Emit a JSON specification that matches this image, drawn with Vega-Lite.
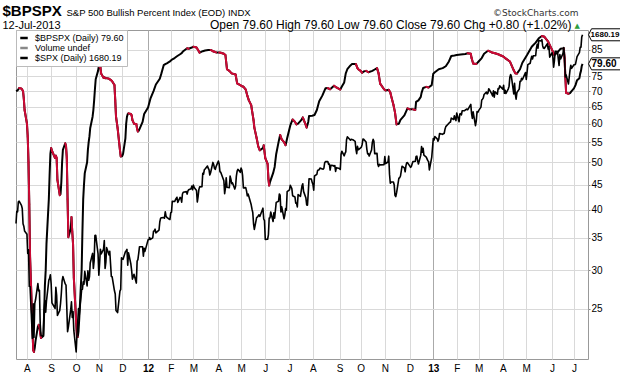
{
"$schema": "https://vega.github.io/schema/vega-lite/v6.json",
"width": 572, "height": 329,
"autosize": {"type": "none"},
"padding": {"left": 16, "top": 30, "right": 32, "bottom": 17},
"background": "white",
"config": {
  "view": {"stroke": "#999999", "strokeWidth": 1},
  "legend": {"orient": "top-left", "offset": 0, "padding": 3, "fillColor": "white", "strokeColor": "#bbbbbb", "strokeWidth": 1, "symbolType": "stroke", "symbolSize": 56, "symbolStrokeWidth": 2.5, "labelFont": "Liberation Sans", "labelFontSize": 9, "labelColor": "black", "labelOffset": 6, "rowPadding": 0, "cornerRadius": 0}
},
"layer": [
{
  "data": {"format": {"parse": {"d": "date"}}, "values": [
{"d":"2011-07-18","v":70.0},{"d":"2011-07-20","v":70.2},{"d":"2011-07-22","v":71.0},{"d":"2011-07-25","v":70.8},{"d":"2011-07-27","v":70.0},{"d":"2011-07-28","v":67.5},{"d":"2011-07-29","v":64.0},{"d":"2011-08-01","v":60.0},{"d":"2011-08-02","v":56.4},{"d":"2011-08-03","v":50.0},{"d":"2011-08-04","v":41.0},{"d":"2011-08-05","v":32.0},{"d":"2011-08-08","v":23.0},{"d":"2011-08-09","v":20.6},{"d":"2011-08-10","v":20.4},{"d":"2011-08-11","v":20.8},{"d":"2011-08-12","v":21.5},{"d":"2011-08-15","v":23.0},{"d":"2011-08-16","v":23.2},{"d":"2011-08-17","v":23.0},{"d":"2011-08-18","v":22.3},{"d":"2011-08-19","v":21.8},{"d":"2011-08-22","v":22.0},{"d":"2011-08-23","v":24.5},{"d":"2011-08-24","v":28.0},{"d":"2011-08-25","v":30.0},{"d":"2011-08-26","v":34.0},{"d":"2011-08-29","v":42.0},{"d":"2011-08-30","v":47.0},{"d":"2011-08-31","v":52.0},
{"d":"2011-09-01","v":53.5},{"d":"2011-09-02","v":52.8},{"d":"2011-09-06","v":51.0},{"d":"2011-09-07","v":51.6},{"d":"2011-09-08","v":51.0},{"d":"2011-09-09","v":46.0},{"d":"2011-09-12","v":42.8},{"d":"2011-09-13","v":43.0},{"d":"2011-09-14","v":45.5},{"d":"2011-09-15","v":50.0},{"d":"2011-09-16","v":53.0},{"d":"2011-09-19","v":54.7},{"d":"2011-09-20","v":54.0},{"d":"2011-09-21","v":51.0},{"d":"2011-09-22","v":42.0},{"d":"2011-09-23","v":35.1},{"d":"2011-09-26","v":36.5},{"d":"2011-09-27","v":38.6},{"d":"2011-09-28","v":36.0},{"d":"2011-09-29","v":34.0},{"d":"2011-09-30","v":29.0},
{"d":"2011-10-03","v":23.5},{"d":"2011-10-04","v":22.0},{"d":"2011-10-05","v":21.9},{"d":"2011-10-06","v":22.5},{"d":"2011-10-07","v":24.0},{"d":"2011-10-10","v":30.0},{"d":"2011-10-11","v":36.0},{"d":"2011-10-12","v":42.0},{"d":"2011-10-13","v":45.0},{"d":"2011-10-14","v":47.5},{"d":"2011-10-17","v":50.0},{"d":"2011-10-18","v":53.0},{"d":"2011-10-19","v":55.0},{"d":"2011-10-20","v":56.5},{"d":"2011-10-21","v":58.8},{"d":"2011-10-24","v":62.0},{"d":"2011-10-25","v":64.0},{"d":"2011-10-26","v":67.0},{"d":"2011-10-27","v":70.6},{"d":"2011-10-28","v":74.0},{"d":"2011-10-31","v":77.0},
{"d":"2011-11-01","v":78.7},{"d":"2011-11-02","v":78.5},{"d":"2011-11-03","v":78.4},{"d":"2011-11-04","v":76.0},{"d":"2011-11-07","v":74.5},{"d":"2011-11-08","v":74.8},{"d":"2011-11-09","v":74.4},{"d":"2011-11-11","v":74.4},{"d":"2011-11-14","v":74.2},{"d":"2011-11-16","v":73.8},{"d":"2011-11-18","v":73.3},{"d":"2011-11-21","v":72.0},{"d":"2011-11-22","v":67.0},{"d":"2011-11-23","v":62.0},{"d":"2011-11-25","v":58.8},{"d":"2011-11-28","v":53.0},{"d":"2011-11-29","v":51.4},{"d":"2011-11-30","v":51.4},
{"d":"2011-12-01","v":51.5},{"d":"2011-12-02","v":52.0},{"d":"2011-12-05","v":56.0},{"d":"2011-12-06","v":60.0},{"d":"2011-12-07","v":62.0},{"d":"2011-12-08","v":62.8},{"d":"2011-12-09","v":63.0},{"d":"2011-12-12","v":62.8},{"d":"2011-12-13","v":62.4},{"d":"2011-12-14","v":61.0},{"d":"2011-12-16","v":60.0},{"d":"2011-12-19","v":59.9},{"d":"2011-12-20","v":58.5},{"d":"2011-12-21","v":57.8},{"d":"2011-12-22","v":58.0},{"d":"2011-12-23","v":58.5},{"d":"2011-12-27","v":60.5},{"d":"2011-12-29","v":62.8},
{"d":"2012-01-03","v":64.8},{"d":"2012-01-06","v":67.5},{"d":"2012-01-10","v":70.0},{"d":"2012-01-13","v":72.2},{"d":"2012-01-18","v":74.2},{"d":"2012-01-20","v":76.0},{"d":"2012-01-23","v":79.1},{"d":"2012-01-25","v":79.5},{"d":"2012-01-27","v":79.8},{"d":"2012-01-31","v":80.5},{"d":"2012-02-02","v":81.1},{"d":"2012-02-06","v":81.8},{"d":"2012-02-09","v":82.5},{"d":"2012-02-13","v":83.3},{"d":"2012-02-15","v":83.7},{"d":"2012-02-17","v":84.5},{"d":"2012-02-22","v":85.7},{"d":"2012-02-24","v":85.5},{"d":"2012-02-28","v":86.0},
{"d":"2012-03-01","v":86.3},{"d":"2012-03-05","v":86.0},{"d":"2012-03-07","v":85.0},{"d":"2012-03-09","v":83.9},{"d":"2012-03-13","v":84.5},{"d":"2012-03-16","v":84.8},{"d":"2012-03-20","v":85.0},{"d":"2012-03-23","v":85.0},{"d":"2012-03-26","v":84.5},{"d":"2012-03-28","v":84.3},{"d":"2012-03-30","v":84.0},{"d":"2012-04-03","v":84.0},{"d":"2012-04-05","v":83.9},{"d":"2012-04-09","v":83.5},{"d":"2012-04-11","v":83.0},{"d":"2012-04-13","v":77.6},{"d":"2012-04-16","v":77.0},{"d":"2012-04-19","v":76.1},{"d":"2012-04-24","v":75.7},{"d":"2012-04-26","v":72.6},{"d":"2012-04-30","v":72.0},
{"d":"2012-05-03","v":71.5},{"d":"2012-05-04","v":71.5},{"d":"2012-05-07","v":70.5},{"d":"2012-05-09","v":68.5},{"d":"2012-05-11","v":67.0},{"d":"2012-05-14","v":65.5},{"d":"2012-05-15","v":63.9},{"d":"2012-05-17","v":61.0},{"d":"2012-05-18","v":58.9},{"d":"2012-05-21","v":56.0},{"d":"2012-05-23","v":53.9},{"d":"2012-05-25","v":52.9},{"d":"2012-05-29","v":53.5},{"d":"2012-05-30","v":54.2},
{"d":"2012-06-01","v":51.0},{"d":"2012-06-04","v":49.6},{"d":"2012-06-05","v":46.3},{"d":"2012-06-06","v":44.8},{"d":"2012-06-07","v":45.5},{"d":"2012-06-08","v":46.0},{"d":"2012-06-11","v":47.5},{"d":"2012-06-13","v":48.9},{"d":"2012-06-15","v":52.0},{"d":"2012-06-18","v":55.0},{"d":"2012-06-20","v":56.9},{"d":"2012-06-22","v":55.7},{"d":"2012-06-25","v":55.0},{"d":"2012-06-27","v":54.2},{"d":"2012-06-29","v":56.0},
{"d":"2012-07-03","v":59.5},{"d":"2012-07-06","v":61.2},{"d":"2012-07-09","v":60.5},{"d":"2012-07-11","v":59.8},{"d":"2012-07-13","v":60.0},{"d":"2012-07-17","v":61.0},{"d":"2012-07-19","v":61.8},{"d":"2012-07-23","v":59.5},{"d":"2012-07-24","v":58.9},{"d":"2012-07-26","v":60.5},{"d":"2012-07-27","v":62.2},{"d":"2012-07-31","v":62.3},
{"d":"2012-08-03","v":62.5},{"d":"2012-08-06","v":64.0},{"d":"2012-08-09","v":66.7},{"d":"2012-08-13","v":68.5},{"d":"2012-08-17","v":70.9},{"d":"2012-08-20","v":71.0},{"d":"2012-08-23","v":70.6},{"d":"2012-08-28","v":71.8},{"d":"2012-08-31","v":71.2},
{"d":"2012-09-05","v":70.5},{"d":"2012-09-07","v":71.5},{"d":"2012-09-10","v":72.9},{"d":"2012-09-12","v":76.1},{"d":"2012-09-14","v":77.6},{"d":"2012-09-18","v":79.0},{"d":"2012-09-20","v":79.5},{"d":"2012-09-25","v":79.5},{"d":"2012-09-27","v":78.0},{"d":"2012-09-28","v":77.6},
{"d":"2012-10-01","v":77.0},{"d":"2012-10-03","v":76.3},{"d":"2012-10-05","v":76.8},{"d":"2012-10-08","v":77.0},{"d":"2012-10-11","v":76.5},{"d":"2012-10-16","v":77.0},{"d":"2012-10-19","v":77.5},{"d":"2012-10-22","v":78.0},{"d":"2012-10-24","v":76.1},{"d":"2012-10-26","v":72.5},{"d":"2012-10-31","v":70.6},
{"d":"2012-11-02","v":70.2},{"d":"2012-11-06","v":70.4},{"d":"2012-11-08","v":69.5},{"d":"2012-11-09","v":68.5},{"d":"2012-11-12","v":65.6},{"d":"2012-11-14","v":63.3},{"d":"2012-11-16","v":59.8},{"d":"2012-11-19","v":60.0},{"d":"2012-11-21","v":61.1},{"d":"2012-11-26","v":62.4},{"d":"2012-11-30","v":64.5},
{"d":"2012-12-03","v":64.2},{"d":"2012-12-07","v":64.2},{"d":"2012-12-10","v":64.0},{"d":"2012-12-11","v":66.5},{"d":"2012-12-14","v":67.0},{"d":"2012-12-17","v":68.1},{"d":"2012-12-18","v":69.4},{"d":"2012-12-20","v":71.0},{"d":"2012-12-24","v":71.4},{"d":"2012-12-27","v":71.2},{"d":"2012-12-31","v":72.0},
{"d":"2013-01-02","v":76.0},{"d":"2013-01-04","v":76.5},{"d":"2013-01-09","v":77.6},{"d":"2013-01-14","v":78.0},{"d":"2013-01-18","v":78.7},{"d":"2013-01-22","v":80.5},{"d":"2013-01-25","v":82.6},{"d":"2013-01-29","v":82.8},{"d":"2013-02-01","v":83.0},{"d":"2013-02-06","v":83.2},{"d":"2013-02-12","v":83.4},{"d":"2013-02-15","v":83.7},{"d":"2013-02-19","v":83.5},{"d":"2013-02-20","v":81.8},{"d":"2013-02-22","v":79.7},{"d":"2013-02-26","v":79.5},
{"d":"2013-03-01","v":80.5},{"d":"2013-03-05","v":81.8},{"d":"2013-03-08","v":83.5},{"d":"2013-03-13","v":84.7},{"d":"2013-03-18","v":84.0},{"d":"2013-03-22","v":83.7},{"d":"2013-03-26","v":83.3},{"d":"2013-03-28","v":83.0},{"d":"2013-04-01","v":82.5},{"d":"2013-04-04","v":81.8},{"d":"2013-04-10","v":80.5},{"d":"2013-04-15","v":77.2},{"d":"2013-04-17","v":76.1},{"d":"2013-04-19","v":76.0},{"d":"2013-04-23","v":77.6},{"d":"2013-04-26","v":80.0},
{"d":"2013-05-02","v":83.0},{"d":"2013-05-08","v":86.3},{"d":"2013-05-13","v":88.0},{"d":"2013-05-17","v":89.8},{"d":"2013-05-21","v":90.8},{"d":"2013-05-24","v":90.5},{"d":"2013-05-29","v":88.4},{"d":"2013-06-03","v":85.0},{"d":"2013-06-06","v":83.0},{"d":"2013-06-10","v":84.0},{"d":"2013-06-14","v":85.5},{"d":"2013-06-18","v":85.7},{"d":"2013-06-19","v":81.8},{"d":"2013-06-20","v":75.0},{"d":"2013-06-21","v":69.4},{"d":"2013-06-24","v":69.1},{"d":"2013-06-26","v":69.3},{"d":"2013-06-28","v":70.0},
{"d":"2013-07-01","v":70.9},{"d":"2013-07-03","v":72.0},{"d":"2013-07-05","v":73.7},{"d":"2013-07-08","v":74.4},{"d":"2013-07-09","v":76.0},{"d":"2013-07-10","v":77.0},{"d":"2013-07-11","v":78.8},{"d":"2013-07-12","v":79.6}
  ]},
  "encoding": {
    "x": {"field": "d", "type": "temporal",
      "scale": {"domain": [{"year": 2011, "month": 7, "date": 18, "utc": true}, {"year": 2013, "month": 7, "date": 19, "utc": true}], "nice": false},
      "axis": {"orient": "bottom",
        "values": [{"year":2011,"month":8,"date":1,"utc":true},{"year":2011,"month":9,"date":1,"utc":true},{"year":2011,"month":10,"date":3,"utc":true},{"year":2011,"month":11,"date":1,"utc":true},{"year":2011,"month":12,"date":1,"utc":true},{"year":2012,"month":1,"date":3,"utc":true},{"year":2012,"month":2,"date":1,"utc":true},{"year":2012,"month":3,"date":1,"utc":true},{"year":2012,"month":4,"date":2,"utc":true},{"year":2012,"month":5,"date":1,"utc":true},{"year":2012,"month":6,"date":1,"utc":true},{"year":2012,"month":7,"date":2,"utc":true},{"year":2012,"month":8,"date":1,"utc":true},{"year":2012,"month":9,"date":4,"utc":true},{"year":2012,"month":10,"date":1,"utc":true},{"year":2012,"month":11,"date":1,"utc":true},{"year":2012,"month":12,"date":3,"utc":true},{"year":2013,"month":1,"date":2,"utc":true},{"year":2013,"month":2,"date":1,"utc":true},{"year":2013,"month":3,"date":1,"utc":true},{"year":2013,"month":4,"date":1,"utc":true},{"year":2013,"month":5,"date":1,"utc":true},{"year":2013,"month":6,"date":3,"utc":true},{"year":2013,"month":7,"date":1,"utc":true}],
        "labelExpr": "utcmonth(datum.value) == 0 ? utcFormat(datum.value, '%y') : substring(utcFormat(datum.value, '%b'), 0, 1)",
        "labelFontWeight": {"condition": {"test": "utcmonth(datum.value) == 0", "value": "bold"}, "value": "normal"},
        "labelFont": "Liberation Sans", "labelFontSize": 10, "labelColor": "#000000", "labelPadding": 4, "labelFlush": false, "labelOverlap": false,
        "ticks": false, "domain": false, "grid": true,
        "gridColor": {"condition": {"test": "utcmonth(datum.value) == 0", "value": "#aaaaaa"}, "value": "#d9d9d9"},
        "title": "S&P 500 Bullish Percent Index (EOD) INDX", "titleX": 50, "titleY": -344, "titleAlign": "left", "titleAngle": 0, "titleBaseline": "alphabetic", "titleFont": "Liberation Sans", "titleFontSize": 9.5, "titleFontWeight": "normal", "titleColor": "#000000"}},
    "y": {"field": "v", "type": "quantitative",
      "scale": {"type": "log", "domain": [19.74, 93.4], "nice": false},
      "axis": {"orient": "right", "values": [25, 30, 35, 40, 45, 50, 55, 60, 65, 70, 75, 85], "format": "d",
        "labelFont": "Liberation Sans", "labelFontSize": 10, "labelColor": "#000000", "labelPadding": 1, "ticks": true, "tickSize": 2, "tickColor": "#888888", "domain": false, "grid": true, "gridColor": "#d9d9d9",
        "title": "©StockCharts.com", "titleX": -10, "titleY": -15, "titleAngle": 0, "titleAlign": "right", "titleBaseline": "alphabetic", "titleFont": "DejaVu Sans", "titleFontSize": 9, "titleFontWeight": "normal", "titleColor": "#333333"}}
  },
  "layer": [
    {"mark": {"type": "line", "strokeWidth": 2, "strokeJoin": "round"},
     "encoding": {"color": {"datum": "$BPSPX (Daily) 79.60", "type": "nominal",
       "scale": {"domain": ["$BPSPX (Daily) 79.60", "Volume undef", "$SPX (Daily) 1680.19"], "range": ["#000000", "#888888", "#000000"]},
       "legend": {"title": null}}}},
    {"transform": [
       {"window": [{"op": "lead", "field": "v", "as": "vn"}, {"op": "lead", "field": "d", "as": "dn"}], "sort": [{"field": "d", "order": "ascending"}]},
       {"filter": "datum.vn != null && datum.vn < datum.v"}],
     "mark": {"type": "rule", "color": "#cc0a35", "strokeWidth": 2, "strokeCap": "round"},
     "encoding": {"x2": {"field": "dn"}, "y2": {"field": "vn"}}},
    {"data": {"format": {"parse": {"d": "date"}}, "values": [{"d": "2013-07-12", "v": 79.6}]},
     "mark": {"type": "point", "shape": "M1,0L1.5,-1L6.5,-1L6.5,1L1.5,1Z", "size": 144, "filled": true, "fill": "white", "stroke": "black", "strokeWidth": 1, "opacity": 1}},
    {"data": {"format": {"parse": {"d": "date"}}, "values": [{"d": "2013-07-12", "v": 79.6}]},
     "mark": {"type": "text", "align": "left", "baseline": "middle", "dx": 9, "dy": 0.5, "font": "Liberation Sans", "fontWeight": "bold", "fontSize": 10, "color": "#000000"},
     "encoding": {"text": {"field": "v", "type": "quantitative", "format": ".2f"}}}
  ]
},
{
  "data": {"format": {"parse": {"d": "date"}}, "values": [
{"d":"2011-07-18","v":1305.4},{"d":"2011-07-19","v":1326.7},{"d":"2011-07-20","v":1325.8},{"d":"2011-07-21","v":1343.8},{"d":"2011-07-22","v":1345.0},{"d":"2011-07-25","v":1337.4},{"d":"2011-07-26","v":1331.9},{"d":"2011-07-27","v":1304.9},{"d":"2011-07-28","v":1300.7},{"d":"2011-07-29","v":1292.3},
{"d":"2011-08-01","v":1286.9},{"d":"2011-08-02","v":1254.1},{"d":"2011-08-03","v":1260.3},{"d":"2011-08-04","v":1200.1},{"d":"2011-08-05","v":1199.4},{"d":"2011-08-08","v":1119.5},{"d":"2011-08-09","v":1172.5},{"d":"2011-08-10","v":1120.8},{"d":"2011-08-11","v":1172.6},{"d":"2011-08-12","v":1178.8},{"d":"2011-08-15","v":1204.5},{"d":"2011-08-16","v":1192.8},{"d":"2011-08-17","v":1193.9},{"d":"2011-08-18","v":1140.7},{"d":"2011-08-19","v":1123.5},{"d":"2011-08-22","v":1123.8},{"d":"2011-08-23","v":1162.4},{"d":"2011-08-24","v":1177.6},{"d":"2011-08-25","v":1159.3},{"d":"2011-08-26","v":1176.8},{"d":"2011-08-29","v":1210.1},{"d":"2011-08-30","v":1212.9},{"d":"2011-08-31","v":1218.9},
{"d":"2011-09-01","v":1204.4},{"d":"2011-09-02","v":1174.0},{"d":"2011-09-06","v":1165.2},{"d":"2011-09-07","v":1198.6},{"d":"2011-09-08","v":1185.9},{"d":"2011-09-09","v":1154.2},{"d":"2011-09-12","v":1162.3},{"d":"2011-09-13","v":1172.9},{"d":"2011-09-14","v":1188.7},{"d":"2011-09-15","v":1209.1},{"d":"2011-09-16","v":1216.0},{"d":"2011-09-19","v":1204.1},{"d":"2011-09-20","v":1202.1},{"d":"2011-09-21","v":1166.8},{"d":"2011-09-22","v":1129.6},{"d":"2011-09-23","v":1136.4},{"d":"2011-09-26","v":1162.9},{"d":"2011-09-27","v":1175.4},{"d":"2011-09-28","v":1151.1},{"d":"2011-09-29","v":1160.4},{"d":"2011-09-30","v":1131.4},
{"d":"2011-10-03","v":1099.2},{"d":"2011-10-04","v":1124.0},{"d":"2011-10-05","v":1144.0},{"d":"2011-10-06","v":1165.0},{"d":"2011-10-07","v":1155.5},{"d":"2011-10-10","v":1194.9},{"d":"2011-10-11","v":1195.5},{"d":"2011-10-12","v":1207.3},{"d":"2011-10-13","v":1203.7},{"d":"2011-10-14","v":1224.6},{"d":"2011-10-17","v":1200.9},{"d":"2011-10-18","v":1225.4},{"d":"2011-10-19","v":1209.9},{"d":"2011-10-20","v":1215.4},{"d":"2011-10-21","v":1238.3},{"d":"2011-10-24","v":1254.2},{"d":"2011-10-25","v":1229.1},{"d":"2011-10-26","v":1242.0},{"d":"2011-10-27","v":1284.6},{"d":"2011-10-28","v":1285.1},{"d":"2011-10-31","v":1253.3},
{"d":"2011-11-01","v":1218.3},{"d":"2011-11-02","v":1237.9},{"d":"2011-11-03","v":1261.2},{"d":"2011-11-04","v":1253.2},{"d":"2011-11-07","v":1261.1},{"d":"2011-11-08","v":1275.9},{"d":"2011-11-09","v":1229.1},{"d":"2011-11-10","v":1239.7},{"d":"2011-11-11","v":1263.9},{"d":"2011-11-14","v":1251.8},{"d":"2011-11-15","v":1257.8},{"d":"2011-11-16","v":1236.9},{"d":"2011-11-17","v":1216.1},{"d":"2011-11-18","v":1215.7},{"d":"2011-11-21","v":1193.0},{"d":"2011-11-22","v":1188.0},{"d":"2011-11-23","v":1161.8},{"d":"2011-11-25","v":1158.7},{"d":"2011-11-28","v":1192.6},{"d":"2011-11-29","v":1195.2},{"d":"2011-11-30","v":1247.0},
{"d":"2011-12-01","v":1244.6},{"d":"2011-12-02","v":1244.3},{"d":"2011-12-05","v":1257.1},{"d":"2011-12-06","v":1258.5},{"d":"2011-12-07","v":1261.0},{"d":"2011-12-08","v":1234.4},{"d":"2011-12-09","v":1255.2},{"d":"2011-12-12","v":1236.5},{"d":"2011-12-13","v":1225.7},{"d":"2011-12-14","v":1211.8},{"d":"2011-12-15","v":1215.8},{"d":"2011-12-16","v":1219.7},{"d":"2011-12-19","v":1205.4},{"d":"2011-12-20","v":1241.3},{"d":"2011-12-21","v":1243.7},{"d":"2011-12-22","v":1254.0},{"d":"2011-12-23","v":1265.3},{"d":"2011-12-27","v":1265.4},{"d":"2011-12-28","v":1249.6},{"d":"2011-12-29","v":1263.0},{"d":"2011-12-30","v":1257.6},
{"d":"2012-01-03","v":1277.1},{"d":"2012-01-04","v":1277.3},{"d":"2012-01-05","v":1281.1},{"d":"2012-01-06","v":1277.8},{"d":"2012-01-09","v":1280.7},{"d":"2012-01-10","v":1292.1},{"d":"2012-01-11","v":1292.5},{"d":"2012-01-12","v":1295.5},{"d":"2012-01-13","v":1289.1},{"d":"2012-01-17","v":1293.7},{"d":"2012-01-18","v":1308.0},{"d":"2012-01-19","v":1314.5},{"d":"2012-01-20","v":1315.4},{"d":"2012-01-23","v":1316.0},{"d":"2012-01-24","v":1314.7},{"d":"2012-01-25","v":1326.1},{"d":"2012-01-26","v":1318.4},{"d":"2012-01-27","v":1316.3},{"d":"2012-01-30","v":1313.0},{"d":"2012-01-31","v":1312.4},
{"d":"2012-02-01","v":1324.1},{"d":"2012-02-02","v":1325.5},{"d":"2012-02-03","v":1344.9},{"d":"2012-02-06","v":1344.3},{"d":"2012-02-07","v":1347.1},{"d":"2012-02-08","v":1350.0},{"d":"2012-02-09","v":1352.0},{"d":"2012-02-10","v":1342.6},{"d":"2012-02-13","v":1351.8},{"d":"2012-02-14","v":1350.5},{"d":"2012-02-15","v":1343.2},{"d":"2012-02-16","v":1358.0},{"d":"2012-02-17","v":1361.2},{"d":"2012-02-21","v":1362.2},{"d":"2012-02-22","v":1357.7},{"d":"2012-02-23","v":1363.5},{"d":"2012-02-24","v":1365.7},{"d":"2012-02-27","v":1367.6},{"d":"2012-02-28","v":1372.2},{"d":"2012-02-29","v":1365.7},
{"d":"2012-03-01","v":1374.1},{"d":"2012-03-02","v":1369.6},{"d":"2012-03-05","v":1364.3},{"d":"2012-03-06","v":1343.4},{"d":"2012-03-07","v":1352.6},{"d":"2012-03-08","v":1365.9},{"d":"2012-03-09","v":1370.9},{"d":"2012-03-12","v":1371.1},{"d":"2012-03-13","v":1396.0},{"d":"2012-03-14","v":1394.3},{"d":"2012-03-15","v":1402.6},{"d":"2012-03-16","v":1404.2},{"d":"2012-03-19","v":1409.8},{"d":"2012-03-20","v":1405.5},{"d":"2012-03-21","v":1402.9},{"d":"2012-03-22","v":1392.8},{"d":"2012-03-23","v":1397.1},{"d":"2012-03-26","v":1416.5},{"d":"2012-03-27","v":1412.5},{"d":"2012-03-28","v":1405.5},{"d":"2012-03-29","v":1403.3},{"d":"2012-03-30","v":1408.5},
{"d":"2012-04-02","v":1419.0},{"d":"2012-04-03","v":1413.4},{"d":"2012-04-04","v":1399.0},{"d":"2012-04-05","v":1398.1},{"d":"2012-04-09","v":1382.2},{"d":"2012-04-10","v":1358.6},{"d":"2012-04-11","v":1368.7},{"d":"2012-04-12","v":1387.6},{"d":"2012-04-13","v":1370.3},{"d":"2012-04-16","v":1369.6},{"d":"2012-04-17","v":1390.8},{"d":"2012-04-18","v":1385.1},{"d":"2012-04-19","v":1376.9},{"d":"2012-04-20","v":1378.5},{"d":"2012-04-23","v":1366.9},{"d":"2012-04-24","v":1372.0},{"d":"2012-04-25","v":1390.7},{"d":"2012-04-26","v":1400.0},{"d":"2012-04-27","v":1403.4},{"d":"2012-04-30","v":1397.9},
{"d":"2012-05-01","v":1405.8},{"d":"2012-05-02","v":1402.3},{"d":"2012-05-03","v":1391.6},{"d":"2012-05-04","v":1369.1},{"d":"2012-05-07","v":1369.6},{"d":"2012-05-08","v":1363.7},{"d":"2012-05-09","v":1354.6},{"d":"2012-05-10","v":1358.0},{"d":"2012-05-11","v":1353.4},{"d":"2012-05-14","v":1338.4},{"d":"2012-05-15","v":1330.7},{"d":"2012-05-16","v":1324.8},{"d":"2012-05-17","v":1304.9},{"d":"2012-05-18","v":1295.2},{"d":"2012-05-21","v":1316.0},{"d":"2012-05-22","v":1316.6},{"d":"2012-05-23","v":1318.9},{"d":"2012-05-24","v":1320.7},{"d":"2012-05-25","v":1317.8},{"d":"2012-05-29","v":1332.4},{"d":"2012-05-30","v":1313.3},{"d":"2012-05-31","v":1310.3},
{"d":"2012-06-01","v":1278.0},{"d":"2012-06-04","v":1278.2},{"d":"2012-06-05","v":1285.5},{"d":"2012-06-06","v":1315.1},{"d":"2012-06-07","v":1315.0},{"d":"2012-06-08","v":1325.7},{"d":"2012-06-11","v":1308.9},{"d":"2012-06-12","v":1324.2},{"d":"2012-06-13","v":1314.9},{"d":"2012-06-14","v":1329.1},{"d":"2012-06-15","v":1342.8},{"d":"2012-06-18","v":1344.8},{"d":"2012-06-19","v":1358.0},{"d":"2012-06-20","v":1355.7},{"d":"2012-06-21","v":1325.5},{"d":"2012-06-22","v":1335.0},{"d":"2012-06-25","v":1313.7},{"d":"2012-06-26","v":1320.0},{"d":"2012-06-27","v":1331.9},{"d":"2012-06-28","v":1329.0},{"d":"2012-06-29","v":1362.2},
{"d":"2012-07-02","v":1365.5},{"d":"2012-07-03","v":1374.0},{"d":"2012-07-05","v":1367.6},{"d":"2012-07-06","v":1354.7},{"d":"2012-07-09","v":1352.5},{"d":"2012-07-10","v":1341.5},{"d":"2012-07-11","v":1341.5},{"d":"2012-07-12","v":1334.8},{"d":"2012-07-13","v":1356.8},{"d":"2012-07-16","v":1353.6},{"d":"2012-07-17","v":1363.7},{"d":"2012-07-18","v":1372.8},{"d":"2012-07-19","v":1376.5},{"d":"2012-07-20","v":1362.7},{"d":"2012-07-23","v":1350.5},{"d":"2012-07-24","v":1338.3},{"d":"2012-07-25","v":1337.9},{"d":"2012-07-26","v":1360.0},{"d":"2012-07-27","v":1386.0},{"d":"2012-07-30","v":1385.3},{"d":"2012-07-31","v":1379.3},
{"d":"2012-08-01","v":1375.3},{"d":"2012-08-02","v":1365.0},{"d":"2012-08-03","v":1391.0},{"d":"2012-08-06","v":1394.2},{"d":"2012-08-07","v":1401.4},{"d":"2012-08-08","v":1402.2},{"d":"2012-08-09","v":1402.8},{"d":"2012-08-10","v":1405.9},{"d":"2012-08-13","v":1404.1},{"d":"2012-08-14","v":1403.9},{"d":"2012-08-15","v":1405.5},{"d":"2012-08-16","v":1415.5},{"d":"2012-08-17","v":1418.2},{"d":"2012-08-20","v":1418.1},{"d":"2012-08-21","v":1413.2},{"d":"2012-08-22","v":1413.5},{"d":"2012-08-23","v":1402.1},{"d":"2012-08-24","v":1411.1},{"d":"2012-08-27","v":1410.4},{"d":"2012-08-28","v":1409.3},{"d":"2012-08-29","v":1410.5},{"d":"2012-08-30","v":1399.5},{"d":"2012-08-31","v":1406.6},
{"d":"2012-09-04","v":1404.9},{"d":"2012-09-05","v":1403.4},{"d":"2012-09-06","v":1432.1},{"d":"2012-09-07","v":1437.9},{"d":"2012-09-10","v":1429.1},{"d":"2012-09-11","v":1433.6},{"d":"2012-09-12","v":1436.6},{"d":"2012-09-13","v":1460.0},{"d":"2012-09-14","v":1465.8},{"d":"2012-09-17","v":1461.2},{"d":"2012-09-18","v":1459.3},{"d":"2012-09-19","v":1461.1},{"d":"2012-09-20","v":1460.3},{"d":"2012-09-21","v":1460.2},{"d":"2012-09-24","v":1456.9},{"d":"2012-09-25","v":1441.6},{"d":"2012-09-26","v":1433.3},{"d":"2012-09-27","v":1447.2},{"d":"2012-09-28","v":1440.7},
{"d":"2012-10-01","v":1444.5},{"d":"2012-10-02","v":1445.8},{"d":"2012-10-03","v":1451.0},{"d":"2012-10-04","v":1461.4},{"d":"2012-10-05","v":1460.9},{"d":"2012-10-08","v":1455.9},{"d":"2012-10-09","v":1441.5},{"d":"2012-10-10","v":1432.6},{"d":"2012-10-11","v":1432.8},{"d":"2012-10-12","v":1428.6},{"d":"2012-10-15","v":1440.1},{"d":"2012-10-16","v":1454.9},{"d":"2012-10-17","v":1460.9},{"d":"2012-10-18","v":1457.3},{"d":"2012-10-19","v":1433.2},{"d":"2012-10-22","v":1433.8},{"d":"2012-10-23","v":1413.1},{"d":"2012-10-24","v":1408.8},{"d":"2012-10-25","v":1413.0},{"d":"2012-10-26","v":1411.9},{"d":"2012-10-31","v":1412.2},
{"d":"2012-11-01","v":1427.6},{"d":"2012-11-02","v":1414.2},{"d":"2012-11-05","v":1417.3},{"d":"2012-11-06","v":1428.4},{"d":"2012-11-07","v":1394.5},{"d":"2012-11-08","v":1377.5},{"d":"2012-11-09","v":1379.9},{"d":"2012-11-12","v":1380.0},{"d":"2012-11-13","v":1374.5},{"d":"2012-11-14","v":1355.5},{"d":"2012-11-15","v":1353.3},{"d":"2012-11-16","v":1359.9},{"d":"2012-11-19","v":1386.9},{"d":"2012-11-20","v":1387.8},{"d":"2012-11-21","v":1391.0},{"d":"2012-11-23","v":1409.2},{"d":"2012-11-26","v":1406.3},{"d":"2012-11-27","v":1398.9},{"d":"2012-11-28","v":1409.9},{"d":"2012-11-29","v":1416.0},{"d":"2012-11-30","v":1416.2},
{"d":"2012-12-03","v":1409.5},{"d":"2012-12-04","v":1407.1},{"d":"2012-12-05","v":1409.3},{"d":"2012-12-06","v":1413.9},{"d":"2012-12-07","v":1418.1},{"d":"2012-12-10","v":1418.6},{"d":"2012-12-11","v":1427.8},{"d":"2012-12-12","v":1428.5},{"d":"2012-12-13","v":1419.5},{"d":"2012-12-14","v":1413.6},{"d":"2012-12-17","v":1430.4},{"d":"2012-12-18","v":1446.8},{"d":"2012-12-19","v":1435.8},{"d":"2012-12-20","v":1443.7},{"d":"2012-12-21","v":1430.2},{"d":"2012-12-24","v":1426.7},{"d":"2012-12-26","v":1419.8},{"d":"2012-12-27","v":1418.1},{"d":"2012-12-28","v":1402.4},{"d":"2012-12-31","v":1426.2},
{"d":"2013-01-02","v":1462.4},{"d":"2013-01-03","v":1459.4},{"d":"2013-01-04","v":1466.5},{"d":"2013-01-07","v":1461.9},{"d":"2013-01-08","v":1457.2},{"d":"2013-01-09","v":1461.0},{"d":"2013-01-10","v":1472.1},{"d":"2013-01-11","v":1472.1},{"d":"2013-01-14","v":1470.7},{"d":"2013-01-15","v":1472.3},{"d":"2013-01-16","v":1472.6},{"d":"2013-01-17","v":1480.9},{"d":"2013-01-18","v":1486.0},{"d":"2013-01-22","v":1492.6},{"d":"2013-01-23","v":1494.8},{"d":"2013-01-24","v":1494.8},{"d":"2013-01-25","v":1503.0},{"d":"2013-01-28","v":1500.2},{"d":"2013-01-29","v":1507.8},{"d":"2013-01-30","v":1502.0},{"d":"2013-01-31","v":1498.1},
{"d":"2013-02-01","v":1513.2},{"d":"2013-02-04","v":1495.7},{"d":"2013-02-05","v":1511.3},{"d":"2013-02-06","v":1512.1},{"d":"2013-02-07","v":1509.4},{"d":"2013-02-08","v":1517.9},{"d":"2013-02-11","v":1518.0},{"d":"2013-02-12","v":1519.4},{"d":"2013-02-13","v":1520.3},{"d":"2013-02-14","v":1521.4},{"d":"2013-02-15","v":1519.8},{"d":"2013-02-19","v":1530.9},{"d":"2013-02-20","v":1512.0},{"d":"2013-02-21","v":1502.4},{"d":"2013-02-22","v":1515.6},{"d":"2013-02-25","v":1487.9},{"d":"2013-02-26","v":1496.9},{"d":"2013-02-27","v":1516.0},{"d":"2013-02-28","v":1514.7},
{"d":"2013-03-01","v":1518.2},{"d":"2013-03-04","v":1525.2},{"d":"2013-03-05","v":1539.8},{"d":"2013-03-06","v":1541.5},{"d":"2013-03-07","v":1544.3},{"d":"2013-03-08","v":1551.2},{"d":"2013-03-11","v":1556.2},{"d":"2013-03-12","v":1552.5},{"d":"2013-03-13","v":1554.5},{"d":"2013-03-14","v":1563.2},{"d":"2013-03-15","v":1560.7},{"d":"2013-03-18","v":1552.1},{"d":"2013-03-19","v":1548.3},{"d":"2013-03-20","v":1558.7},{"d":"2013-03-21","v":1545.8},{"d":"2013-03-22","v":1556.9},{"d":"2013-03-25","v":1551.7},{"d":"2013-03-26","v":1563.8},{"d":"2013-03-27","v":1562.9},{"d":"2013-03-28","v":1569.2},
{"d":"2013-04-01","v":1562.2},{"d":"2013-04-02","v":1570.3},{"d":"2013-04-03","v":1553.7},{"d":"2013-04-04","v":1560.0},{"d":"2013-04-05","v":1553.3},{"d":"2013-04-08","v":1563.1},{"d":"2013-04-09","v":1568.6},{"d":"2013-04-10","v":1587.7},{"d":"2013-04-11","v":1593.4},{"d":"2013-04-12","v":1588.9},{"d":"2013-04-15","v":1552.4},{"d":"2013-04-16","v":1574.6},{"d":"2013-04-17","v":1552.0},{"d":"2013-04-18","v":1541.6},{"d":"2013-04-19","v":1555.3},{"d":"2013-04-22","v":1562.5},{"d":"2013-04-23","v":1578.8},{"d":"2013-04-24","v":1578.8},{"d":"2013-04-25","v":1585.2},{"d":"2013-04-26","v":1582.2},{"d":"2013-04-29","v":1593.6},{"d":"2013-04-30","v":1597.6},
{"d":"2013-05-01","v":1582.7},{"d":"2013-05-02","v":1597.6},{"d":"2013-05-03","v":1614.4},{"d":"2013-05-06","v":1617.5},{"d":"2013-05-07","v":1626.0},{"d":"2013-05-08","v":1632.7},{"d":"2013-05-09","v":1626.7},{"d":"2013-05-10","v":1633.7},{"d":"2013-05-13","v":1633.8},{"d":"2013-05-14","v":1650.3},{"d":"2013-05-15","v":1658.8},{"d":"2013-05-16","v":1650.5},{"d":"2013-05-17","v":1667.5},{"d":"2013-05-20","v":1666.3},{"d":"2013-05-21","v":1669.2},{"d":"2013-05-22","v":1655.4},{"d":"2013-05-23","v":1650.5},{"d":"2013-05-24","v":1649.6},{"d":"2013-05-28","v":1660.1},{"d":"2013-05-29","v":1648.4},{"d":"2013-05-30","v":1654.4},{"d":"2013-05-31","v":1630.7},
{"d":"2013-06-03","v":1640.4},{"d":"2013-06-04","v":1631.4},{"d":"2013-06-05","v":1608.9},{"d":"2013-06-06","v":1622.6},{"d":"2013-06-07","v":1643.4},{"d":"2013-06-10","v":1642.8},{"d":"2013-06-11","v":1626.1},{"d":"2013-06-12","v":1612.5},{"d":"2013-06-13","v":1636.4},{"d":"2013-06-14","v":1626.7},{"d":"2013-06-17","v":1639.0},{"d":"2013-06-18","v":1651.8},{"d":"2013-06-19","v":1628.9},{"d":"2013-06-20","v":1588.2},{"d":"2013-06-21","v":1592.4},{"d":"2013-06-24","v":1573.1},{"d":"2013-06-25","v":1588.0},{"d":"2013-06-26","v":1603.3},{"d":"2013-06-27","v":1613.2},{"d":"2013-06-28","v":1606.3},
{"d":"2013-07-01","v":1614.1},{"d":"2013-07-02","v":1614.1},{"d":"2013-07-03","v":1615.4},{"d":"2013-07-05","v":1631.9},{"d":"2013-07-08","v":1640.5},{"d":"2013-07-09","v":1652.3},{"d":"2013-07-10","v":1652.6},{"d":"2013-07-11","v":1675.0},{"d":"2013-07-12","v":1680.19}
  ]},
  "encoding": {
    "x": {"field": "d", "type": "temporal",
      "scale": {"domain": [{"year": 2011, "month": 7, "date": 18, "utc": true}, {"year": 2013, "month": 7, "date": 19, "utc": true}], "nice": false},
      "axis": {"orient": "top", "labels": false, "ticks": false, "domain": false, "grid": false,
        "title": "Open 79.60  High 79.60  Low 79.60  Close 79.60  Chg +0.80 (+1.02%)", "titleX": 555, "titleY": -2, "titleAlign": "right", "titleAngle": 0, "titleBaseline": "alphabetic", "titleFont": "Liberation Sans", "titleFontSize": 12, "titleFontWeight": "normal", "titleColor": "#000000"}},
    "y": {"field": "v", "type": "quantitative",
      "scale": {"type": "log", "domain": [1089, 1691], "nice": false},
      "axis": {"orient": "left", "labels": false, "ticks": false, "domain": false, "grid": false,
        "title": "12-Jul-2013", "titleX": -14, "titleY": -2, "titleAlign": "left", "titleAngle": 0, "titleBaseline": "alphabetic", "titleFont": "Liberation Sans", "titleFontSize": 11, "titleFontWeight": "normal", "titleColor": "#000000"}}
  },
  "layer": [
    {"mark": {"type": "line", "strokeWidth": 1.6, "strokeJoin": "round"},
     "encoding": {"color": {"datum": "$SPX (Daily) 1680.19", "type": "nominal"}}},
    {"data": {"format": {"parse": {"d": "date"}}, "values": [{"d": "2013-07-12", "v": 1680.19}]},
     "mark": {"type": "point", "shape": "M1,0L1.5,-1L8,-1L8,1L1.5,1Z", "size": 144, "filled": true, "fill": "white", "stroke": "black", "strokeWidth": 1, "opacity": 1}},
    {"data": {"format": {"parse": {"d": "date"}}, "values": [{"d": "2013-07-12", "v": 1680.19}]},
     "mark": {"type": "text", "align": "left", "baseline": "middle", "dx": 8, "dy": 0.5, "font": "Liberation Sans", "fontWeight": "bold", "fontSize": 8, "color": "#000000"},
     "encoding": {"text": {"field": "v", "type": "quantitative", "format": ".2f"}}}
  ]
},
{
  "data": {"format": {"parse": {"d": "date"}}, "values": [{"d": "2013-07-12", "v": 79.6}]},
  "mark": {"type": "point", "opacity": 0},
  "encoding": {
    "x": {"field": "d", "type": "temporal",
      "scale": {"domain": [{"year": 2011, "month": 7, "date": 18, "utc": true}, {"year": 2013, "month": 7, "date": 19, "utc": true}], "nice": false},
      "axis": {"orient": "top", "labels": false, "ticks": false, "domain": false, "grid": false,
        "title": "$BPSPX", "titleX": -14, "titleY": -15, "titleAlign": "left", "titleAngle": 0, "titleBaseline": "alphabetic", "titleFont": "Liberation Sans", "titleFontSize": 15, "titleFontWeight": "bold", "titleColor": "#000000"}},
    "y": {"field": "v", "type": "quantitative",
      "axis": {"orient": "left", "labels": false, "ticks": false, "domain": false, "grid": false,
        "title": "▲", "titleX": 558, "titleY": -3, "titleAlign": "left", "titleAngle": 0, "titleBaseline": "alphabetic", "titleFont": "DejaVu Sans", "titleFontSize": 7, "titleFontWeight": "normal", "titleColor": "#2e9e3e"}}
  }
}
],
"resolve": {"scale": {"y": "independent"}, "axis": {"x": "independent", "y": "independent"}}
}
